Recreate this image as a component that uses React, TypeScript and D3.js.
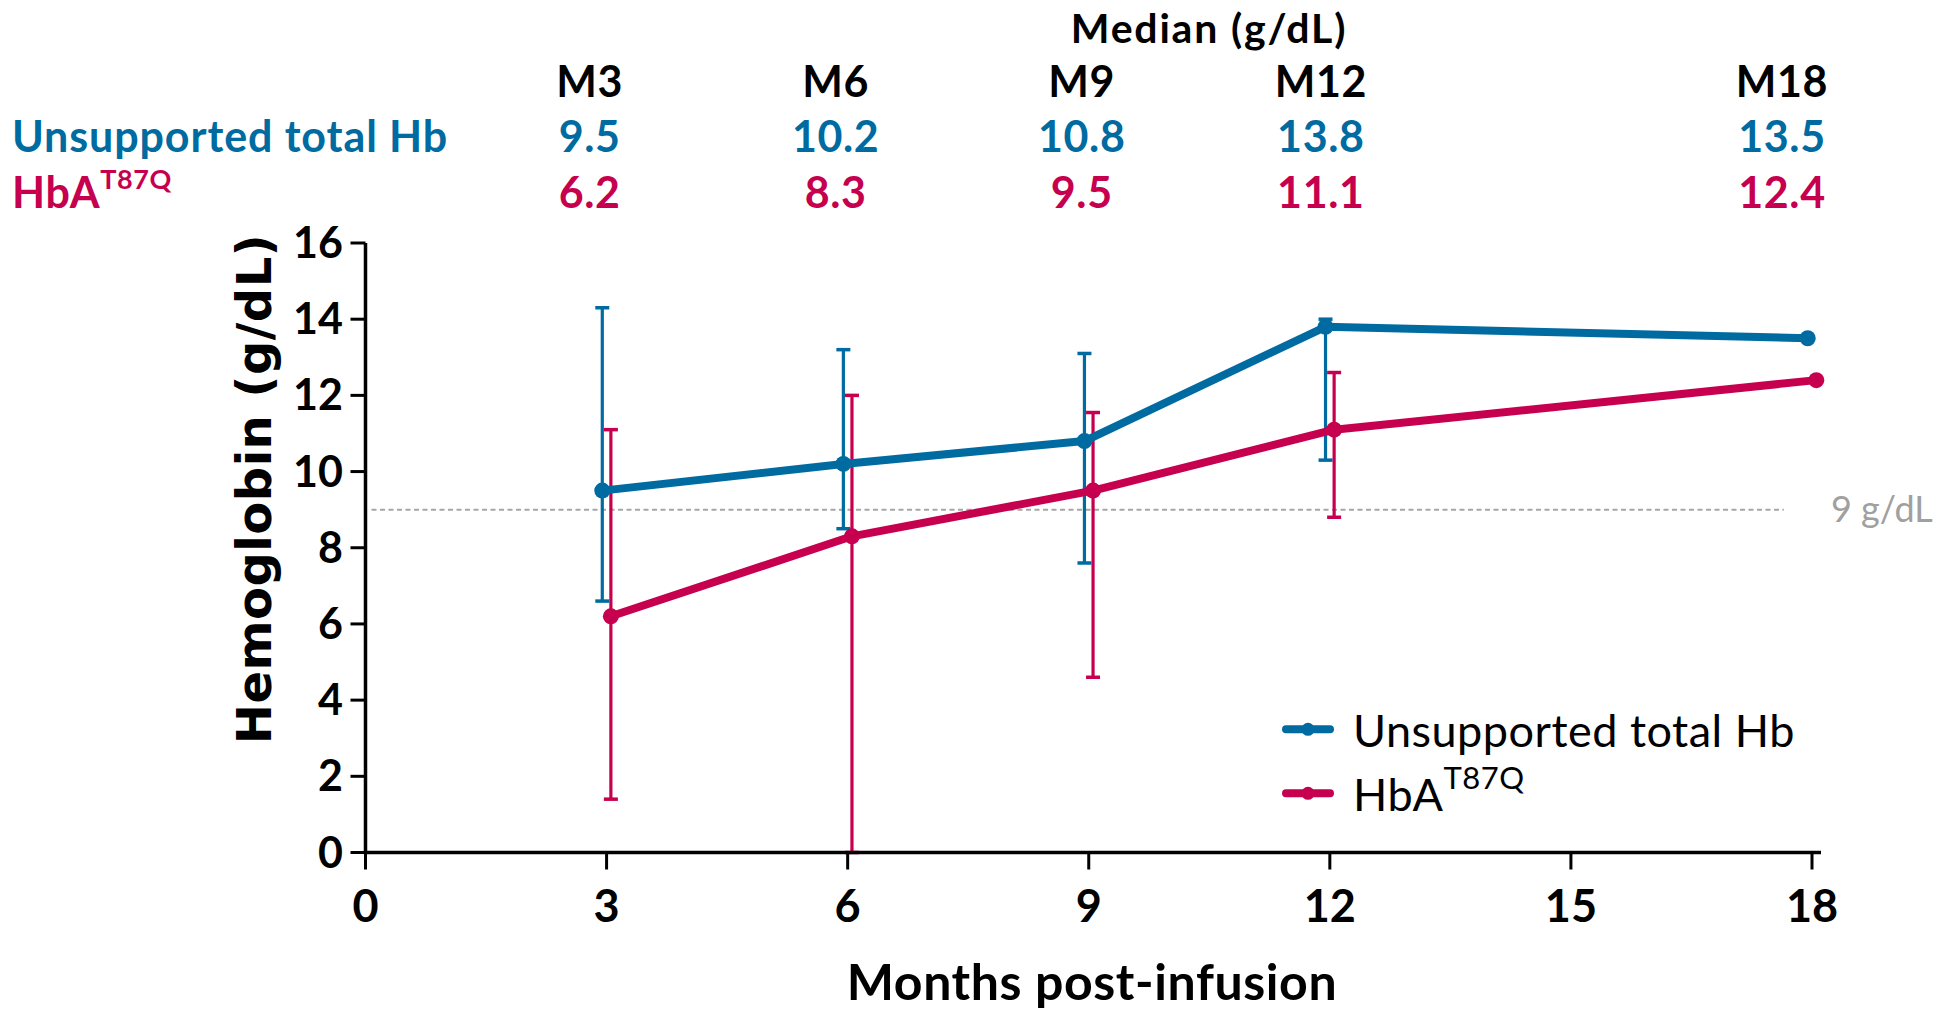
import React from "react";
import * as d3 from "d3";

// ---- data ----
const months = [3, 6, 9, 12, 18];
const monthLabels = ["M3", "M6", "M9", "M12", "M18"];
const totalHb = [9.5, 10.2, 10.8, 13.8, 13.5];
const totalHbLow = [6.6, 8.5, 7.6, 10.3, NaN];
const totalHbHigh = [14.3, 13.2, 13.1, 14.0, NaN];
const hbaT87Q = [6.2, 8.3, 9.5, 11.1, 12.4];
const hbaLow = [1.4, 0.0, 4.6, 8.8, NaN];
const hbaHigh = [11.1, 12.0, 11.55, 12.6, NaN];
const xTicks = [0, 3, 6, 9, 12, 15, 18];
const yTicks = [0, 2, 4, 6, 8, 10, 12, 14, 16];
const threshold = 9;

const BLUE = "#006ba1";
const RED = "#c6004e";
const FONT = "Lato, 'Open Sans', sans-serif";

export default function App() {
  const W = 1943;
  const H = 1010;
  const x = d3.scaleLinear().domain([0, 18]).range([365.5, 1812]);
  const y = d3.scaleLinear().domain([0, 16]).range([852.5, 243]);
  const dodge = 4.3;

  const line = d3
    .line<number>()
    .x((_, i) => x(months[i]))
    .y((d) => y(d));

  const series = [
    { name: "Unsupported total Hb", vals: totalHb, lo: totalHbLow, hi: totalHbHigh, color: BLUE, dx: -dodge },
    { name: "HbA", vals: hbaT87Q, lo: hbaLow, hi: hbaHigh, color: RED, dx: dodge },
  ];

  const tableNudge = [-17, -12, -7, -9, -30];
  const capW = 14;
  const TF = 43;
  const LS = 0.6;

  return (
    <svg
      width={W}
      height={H}
      style={{ position: "absolute", left: 0, top: 0, display: "block", background: "#fff" }}
      fontFamily={FONT}
    >
      {/* Median table */}
      <text x={1209} y={43} fontSize={41} fontWeight={700} textAnchor="middle" fill="#000" letterSpacing={1.8}>
        Median (g/dL)
      </text>
      {monthLabels.map((m, i) => (
        <text key={m} x={x(months[i]) + tableNudge[i]} y={97} fontSize={TF} fontWeight={700} textAnchor="middle" fill="#000" letterSpacing={LS}>
          {m}
        </text>
      ))}
      <text x={12} y={152} fontSize={TF} fontWeight={700} fill={BLUE} letterSpacing={0.9}>
        Unsupported total Hb
      </text>
      <text x={12} y={208} fontSize={TF} fontWeight={700} fill={RED} letterSpacing={LS}>
        HbA
        <tspan fontSize={27} dy={-19}>T87Q</tspan>
      </text>
      {totalHb.map((v, i) => (
        <text key={"t" + i} x={x(months[i]) + tableNudge[i]} y={152} fontSize={TF} fontWeight={700} textAnchor="middle" fill={BLUE} letterSpacing={LS}>
          {v.toFixed(1)}
        </text>
      ))}
      {hbaT87Q.map((v, i) => (
        <text key={"h" + i} x={x(months[i]) + tableNudge[i]} y={208} fontSize={TF} fontWeight={700} textAnchor="middle" fill={RED} letterSpacing={LS}>
          {v.toFixed(1)}
        </text>
      ))}

      {/* threshold */}
      <line
        x1={x(0) + 6}
        x2={x(17.65)}
        y1={y(threshold)}
        y2={y(threshold)}
        stroke="#a6a6a6"
        strokeWidth={2}
        strokeDasharray="5 3.5"
      />
      <text x={1831} y={y(threshold) + 12} fontSize={36} fill="#a0a0a0">
        9 g/dL
      </text>

      {/* error bars */}
      {series.map((s) =>
        months.map((m, i) => {
          if (isNaN(s.lo[i])) return null;
          const cx = x(m) + s.dx;
          return (
            <g key={s.name + m} stroke={s.color}>
              <line x1={cx} x2={cx} y1={y(s.lo[i])} y2={y(s.hi[i])} strokeWidth={3.2} />
              <line x1={cx - capW / 2} x2={cx + capW / 2} y1={y(s.hi[i])} y2={y(s.hi[i])} strokeWidth={3.5} />
              <line x1={cx - capW / 2} x2={cx + capW / 2} y1={y(s.lo[i])} y2={y(s.lo[i])} strokeWidth={3.5} />
            </g>
          );
        })
      )}

      {/* lines */}
      {series.map((s) => (
        <g key={"l" + s.name} transform={`translate(${s.dx},0)`}>
          <path d={line(s.vals) || ""} fill="none" stroke={s.color} strokeWidth={8} strokeLinejoin="round" />
          {s.vals.map((v, i) => (
            <circle key={i} cx={x(months[i])} cy={y(v)} r={8} fill={s.color} />
          ))}
        </g>
      ))}

      {/* axes */}
      <line x1={x(0)} x2={x(0)} y1={y(16)} y2={y(0)} stroke="#000" strokeWidth={3.5} />
      <line x1={x(0) - 1.75} x2={1821} y1={y(0)} y2={y(0)} stroke="#000" strokeWidth={3.5} />
      {yTicks.map((t) => (
        <g key={"yt" + t}>
          <line x1={x(0) - 15} x2={x(0)} y1={y(t)} y2={y(t)} stroke="#000" strokeWidth={3} />
          <text x={343} y={y(t) + 15} fontSize={43} fontWeight={700} textAnchor="end" fill="#000">
            {t}
          </text>
        </g>
      ))}
      {xTicks.map((t) => (
        <g key={"xt" + t}>
          <line x1={x(t)} x2={x(t)} y1={y(0)} y2={y(0) + 17} stroke="#000" strokeWidth={3} />
          <text x={x(t)} y={922} fontSize={45} fontWeight={700} textAnchor="middle" fill="#000">
            {t}
          </text>
        </g>
      ))}
      <text x={1092} y={1000} fontSize={50} fontWeight={700} textAnchor="middle" fill="#000" letterSpacing={0.6}>
        Months post-infusion
      </text>
      <text
        transform={`translate(271,489) rotate(-90)`}
        fontSize={48}
        fontWeight={700}
        textAnchor="middle"
        fill="#000"
        fontFamily="'DejaVu Sans', Verdana, sans-serif"
        letterSpacing={0.5}
      >
        Hemoglobin (g/dL)
      </text>

      {/* legend */}
      {series.map((s, i) => {
        const ly = 729.3 + i * 64;
        return (
          <g key={"lg" + s.name}>
            <line x1={1286} x2={1330} y1={ly} y2={ly} stroke={s.color} strokeWidth={8} strokeLinecap="round" />
            <circle cx={1308} cy={ly} r={6.5} fill={s.color} />
            <text x={1353} y={ly + 17.5} fontSize={45} fill="#000" letterSpacing={0.5}>
              {s.name}
              {i === 1 ? (
                <tspan fontSize={31} dy={-22}>
                  T87Q
                </tspan>
              ) : null}
            </text>
          </g>
        );
      })}
    </svg>
  );
}
